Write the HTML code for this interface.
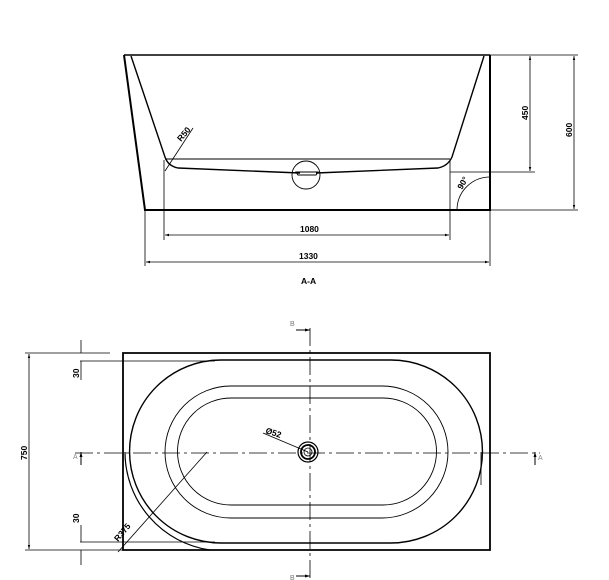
<!DOCTYPE html>
<html><head><meta charset="utf-8"><style>
html,body{margin:0;padding:0;background:#fff;}
svg{display:block}
text{font-family:"Liberation Sans",sans-serif;font-weight:bold;font-size:8.5px;fill:#000}
</style></head><body>
<svg width="609" height="580" viewBox="0 0 609 580" xmlns="http://www.w3.org/2000/svg">
<defs>
<marker id="a" viewBox="0 0 10 10" refX="10" refY="5" markerWidth="7" markerHeight="5" orient="auto-start-reverse"><path d="M0,2 L10,5 L0,8z" fill="#000"/></marker>
</defs>
<g fill="none" stroke="#000">
<path d="M124,55 L490,55" stroke-width="1.6"/>
<path d="M124,55 L145,210 L490,210 L490,55" stroke-width="2"/>
<path d="M131,56 L165,157 Q168,166 178,168 L300,173" stroke-width="1.4"/>
<path d="M484,56 L452,157 Q448,166 438,168 L316,173" stroke-width="1.4"/>
<path d="M165,159 L450,159" stroke-width="0.9"/>
<circle cx="306" cy="175" r="14" stroke-width="0.9"/>
<path d="M296,172 L318,172 L316,175 L298,175z" stroke-width="1"/>
<path d="M165,171 L193,128" stroke-width="0.8"/>
<path d="M164,160 L164,240 M450,160 L450,240 M145,210 L145,266 M490,210 L490,266" stroke-width="0.8"/>
<path d="M165,235 L449,235" stroke-width="0.8" marker-start="url(#a)" marker-end="url(#a)"/>
<path d="M146,262 L489,262" stroke-width="0.8" marker-start="url(#a)" marker-end="url(#a)"/>
<path d="M490,55 L578,55 M450,172 L535,172 M490,210 L578,210" stroke-width="0.8"/>
<path d="M530,56 L530,171" stroke-width="0.8" marker-start="url(#a)" marker-end="url(#a)"/>
<path d="M574,56 L574,209" stroke-width="0.8" marker-start="url(#a)" marker-end="url(#a)"/>
<path d="M457,210 A33,33 0 0 1 490,177" stroke-width="0.8"/>
<path d="M123,353 L490,353 L490,550 L123,550z" stroke-width="1.8"/>
<path d="M221,360 L391,360 A91.5,91.5 0 0 1 391,543 L221,543 A91.5,91.5 0 0 1 221,360z" stroke-width="1.4"/>
<path d="M125,452 A99,99 0 0 0 210,550" stroke-width="1.2"/>
<path d="M481,452 L481,485" stroke-width="0.8"/>
<path d="M231,386 L382,386 A66,66 0 0 1 382,518 L231,518 A66,66 0 0 1 231,386z" stroke-width="0.9"/>
<path d="M231,398 L383,398 A53.5,53.5 0 0 1 383,505 L231,505 A53.5,53.5 0 0 1 231,398z" stroke-width="0.9"/>
<circle cx="308" cy="452" r="10" stroke-width="1.2"/>
<circle cx="308" cy="452" r="7" stroke-width="1.8"/>
<circle cx="308" cy="452" r="4" stroke-width="0.8"/>
<path d="M263,433 L308,452" stroke-width="0.8"/>
<path d="M75,453 L540,453" stroke-width="0.8" stroke-dasharray="18,4,3,4"/>
<path d="M310,328 L310,580" stroke-width="0.8" stroke-dasharray="18,4,3,4"/>
<path d="M207,452 L118,552" stroke-width="0.8"/>
<path d="M25,353 L110,353 M80,361 L215,361 M80,542 L215,542 M25,550 L210,550" stroke-width="0.8"/>
<path d="M29,354 L29,549" stroke-width="0.8" marker-start="url(#a)" marker-end="url(#a)"/>
<path d="M81,340 L81,353 M81,361 L81,380 M81,525 L81,542 M81,550 L81,565" stroke-width="0.8"/>
<path d="M81,465 L81,452" stroke-width="1" marker-end="url(#a)"/>
<path d="M535,465 L535,452" stroke-width="1" marker-end="url(#a)"/>
<path d="M296,330 L310,330" stroke-width="1" marker-end="url(#a)"/>
<path d="M296,576 L310,576" stroke-width="1" marker-end="url(#a)"/>
</g>
<text x="300" y="232">1080</text>
<text x="299" y="259">1330</text>
<text x="301" y="284">A-A</text>
<text transform="translate(528,120) rotate(-90)">450</text>
<text transform="translate(572,137) rotate(-90)">600</text>
<text transform="translate(181,142) rotate(-50)">R50</text>
<text transform="translate(462,190) rotate(-60)">90°</text>
<text transform="translate(27,460) rotate(-90)">750</text>
<text transform="translate(79,378) rotate(-90)">30</text>
<text transform="translate(79,523) rotate(-90)">30</text>
<text transform="translate(118,542) rotate(-50)">R375</text>
<text transform="translate(265,433) rotate(18)">Ø52</text>
<text x="290" y="326" style="font-weight:normal;font-size:7px;fill:#777">B</text>
<text x="290" y="580" style="font-weight:normal;font-size:7px;fill:#777">B</text>
<text x="73" y="459" style="font-weight:normal;font-size:7px;fill:#888">A</text>
<text x="538" y="460" style="font-weight:normal;font-size:7px;fill:#888">A</text>
</svg>
</body></html>
